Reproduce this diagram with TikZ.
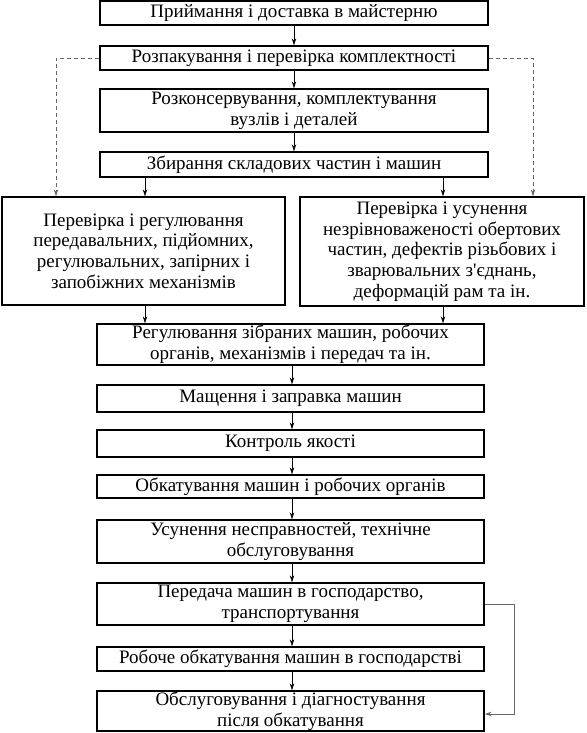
\documentclass[tikz,border=0pt]{standalone}
\usepackage{fontspec}
\setmainfont{Liberation Serif}[Ligatures=TeXOff]
\usetikzlibrary{arrows.meta}
\begin{document}
\begin{tikzpicture}[x=1pt,y=-1pt,
  box/.style={draw, line width=1.4pt, inner sep=0pt, align=center,
    font=\fontsize{19}{20.7}\selectfont},
  topbox/.style={box, minimum width=388pt},
  lowbox/.style={box, minimum width=387pt},
  arr/.style={-{Stealth[length=7pt,width=4.5pt]}, line width=0.6pt},
  dsh/.style={arr, draw=gray!80!black, dash pattern=on 4pt off 3pt},
  gcon/.style={arr, draw=gray!80!black, line width=0.8pt},
]
\useasboundingbox (0,0) rectangle (586,733);
\node[topbox, minimum height=24pt] (b1) at (294,13) {Приймання і доставка в майстерню};
\node[topbox, minimum height=24pt] (b2) at (294,58) {Розпакування і перевірка комплектності};
\node[topbox, minimum height=43pt] (b3) at (294,110.5) {Розконсервування, комплектування\\вузлів і деталей};
\node[topbox, minimum height=25pt] (b4) at (294,164.5) {Збирання складових частин і машин};
\node[box, minimum width=283pt, minimum height=108pt] (L) at (143.5,251) {Перевірка і регулювання\\передавальних, підйомних,\\регулювальних, запірних і\\запобіжних механізмів};
\node[box, minimum width=284pt, minimum height=109pt] (R) at (442,251.5) {Перевірка і усунення\\незрівноваженості обертових\\частин, дефектів різьбових і\\зварювальних з'єднань,\\деформацій рам та ін.};
\node[lowbox, minimum height=41pt] (b5) at (290.5,344.5) {Регулювання зібраних машин, робочих\\органів, механізмів і передач та ін.};
\node[lowbox, minimum height=27pt] (b6) at (290.5,398.5) {Мащення і заправка машин};
\node[lowbox, minimum height=27pt] (b7) at (290.5,443.5) {Контроль якості};
\node[lowbox, minimum height=23pt] (b8) at (290.5,486.5) {Обкатування машин і робочих органів};
\node[lowbox, minimum height=43pt] (b9) at (290.5,541.5) {Усунення несправностей, технічне\\обслуговування};
\node[lowbox, minimum height=42pt] (b10) at (290.5,604) {Передача машин в господарство,\\транспортування};
\node[lowbox, minimum height=24pt] (b11) at (290.5,659) {Робоче обкатування машин в господарстві};
\node[lowbox, minimum height=40pt] (b12) at (290.5,711) {Обслуговування і діагностування\\після обкатування};

\draw[arr] (b1) -- (b2);
\draw[arr] (b2) -- (b3);
\draw[arr] (b3) -- (b4);
\draw[arr] (145,0 |- b4.south) -- (145,0 |- L.north);
\draw[arr] (443,0 |- b4.south) -- (443,0 |- R.north);
\draw[arr] (145,0 |- L.south) -- (145,0 |- b5.north);
\draw[arr] (443,0 |- R.south) -- (443,0 |- b5.north);
\draw[arr] (292,0 |- b5.south) -- (292,0 |- b6.north);
\draw[arr] (292,0 |- b6.south) -- (292,0 |- b7.north);
\draw[arr] (292,0 |- b7.south) -- (292,0 |- b8.north);
\draw[arr] (292,0 |- b8.south) -- (292,0 |- b9.north);
\draw[arr] (292,0 |- b9.south) -- (292,0 |- b10.north);
\draw[arr] (292,0 |- b10.south) -- (292,0 |- b11.north);
\draw[arr] (292,0 |- b11.south) -- (292,0 |- b12.north);
\draw[dsh] (b2.west) -- (56,0 |- b2.west) -- (56,0 |- L.north);
\draw[dsh] (b2.east) -- (533,0 |- b2.east) -- (533,0 |- R.north);
\draw[gcon] (b10.east) -- (514,0 |- b10.east) -- (514,714) -- (b12.east |- 0,714);
\end{tikzpicture}
\end{document}
